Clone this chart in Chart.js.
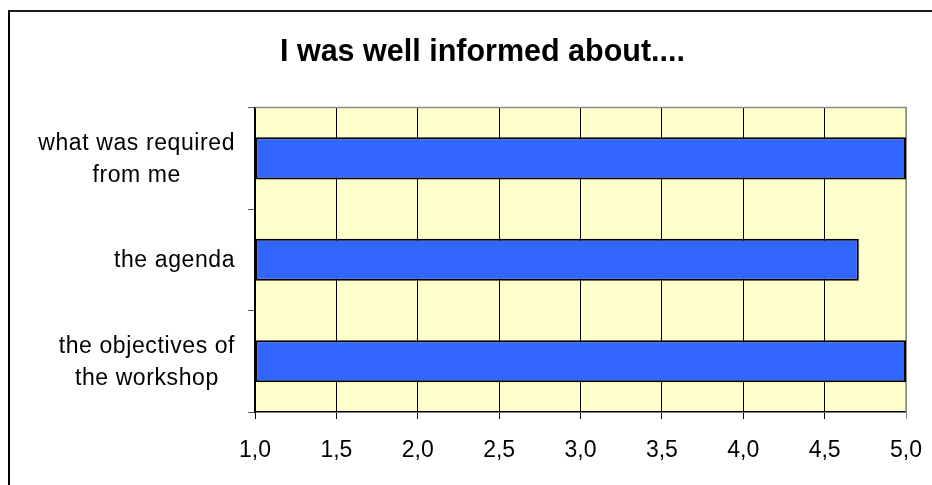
<!DOCTYPE html>
<html>
<head>
<meta charset="utf-8">
<script src="https://cdn.jsdelivr.net/npm/chart.js@4/dist/chart.umd.min.js"></script>
<style>
  html, body { margin: 0; padding: 0; background: #fff; width: 932px; height: 485px; overflow: hidden; }
  #frame { position: absolute; left: 8px; top: 10px; width: 940px; height: 490px;
           border-left: 2px solid #000; border-top: 2px solid #1a1a1a; }
  #c { position: absolute; left: 0; top: 0; }
</style>
</head>
<body>
<div id="frame"></div>
<canvas id="c" width="932" height="485"></canvas>
<script>
const titleText = 'I was well informed about....';
const categories = [
  ['what was required', 'from me'],
  'the agenda',
  ['the objectives of', 'the workshop']
];
const values = [5.0, 4.71, 5.0];
const xTickLabels = ['1,0', '1,5', '2,0', '2,5', '3,0', '3,5', '4,0', '4,5', '5,0'];
const xMin = 1, xMax = 5, xStep = 0.5;

const FONT = 'Liberation Sans, Arial, sans-serif';

const plotBg = {
  id: 'plotBg',
  beforeDraw(chart) {
    const a = chart.chartArea, ctx = chart.ctx;
    ctx.save();
    ctx.fillStyle = '#FFFFCC';
    ctx.fillRect(a.left, a.top, a.right - a.left, a.bottom - a.top);
    ctx.restore();
  },
  beforeDatasetsDraw(chart) {
    const a = chart.chartArea, ctx = chart.ctx;
    ctx.save();
    ctx.strokeStyle = '#8c8c8c';
    ctx.lineWidth = 1.5;
    ctx.beginPath();
    ctx.moveTo(a.left, a.top);
    ctx.lineTo(a.right, a.top);
    ctx.lineTo(a.right, a.bottom);
    ctx.stroke();
    ctx.restore();
  }
};

// Category labels: each label block right-aligned to the axis, its lines centred within the block
const yLabels = {
  id: 'yLabels',
  afterDraw(chart) {
    const scale = chart.scales.y, ctx = chart.ctx;
    const gap = 20.5, lineGap = 32.5, spacing = 0.6;
    ctx.save();
    ctx.font = '23px ' + FONT;
    ctx.fillStyle = '#000';
    ctx.textBaseline = 'alphabetic';
    ctx.textAlign = 'left';
    if ('letterSpacing' in ctx) ctx.letterSpacing = spacing + 'px';
    chart.data.labels.forEach((lab, i) => {
      const lines = Array.isArray(lab) ? lab : [lab];
      const widths = lines.map(l => ctx.measureText(l).width - spacing);
      const blockW = Math.max(...widths);
      const right = scale.right - gap;
      const cx = right - blockW / 2;
      const cy = scale.getPixelForTick(i);
      lines.forEach((l, j) => {
        const y = cy + 7.5 + (j - (lines.length - 1) / 2) * lineGap;
        ctx.fillText(l, cx - widths[j] / 2, y);
      });
    });
    ctx.restore();
  }
};

new Chart(document.getElementById('c'), {
  type: 'bar',
  data: {
    labels: categories,
    datasets: [{
      data: values,
      base: xMin,
      backgroundColor: '#3366FF',
      borderColor: '#000000',
      borderWidth: 2,
      borderSkipped: false,
      barPercentage: 0.415,
      categoryPercentage: 1.0
    }]
  },
  options: {
    indexAxis: 'y',
    responsive: false,
    animation: false,
    layout: { padding: { left: 59, right: 26, top: 0, bottom: 22 } },
    plugins: {
      legend: { display: false },
      tooltip: { enabled: false },
      title: {
        display: true,
        text: titleText,
        color: '#000',
        font: { family: FONT, size: 30.5, weight: 'bold', lineHeight: 1.2 },
        padding: { top: 34.5, bottom: 36.5 }
      }
    },
    scales: {
      x: {
        type: 'linear',
        min: xMin,
        max: xMax,
        ticks: {
          stepSize: xStep,
          color: '#000',
          padding: 17.5,
          font: { family: FONT, size: 23, lineHeight: 1.2 },
          callback: (v, i) => xTickLabels[i]
        },
        grid: {
          color: (ctx) => (ctx.index === xTickLabels.length - 1 ? '#8c8c8c' : '#000'),
          lineWidth: 1,
          tickLength: 7,
          drawTicks: true
        },
        border: { display: true, color: '#000', width: 1.5 },
        afterFit(scale) {
          scale.height = 51;
          scale.paddingLeft = 0;
          scale.paddingRight = 0;
        }
      },
      y: {
        type: 'category',
        offset: true,
        ticks: { display: false },
        grid: {
          offset: true,
          drawOnChartArea: false,
          drawTicks: true,
          tickLength: 7,
          color: '#555'
        },
        border: { display: true, color: '#000', width: 2 },
        afterFit(scale) { scale.width = 196; }
      }
    }
  },
  plugins: [plotBg, yLabels]
});
</script>
</body>
</html>
